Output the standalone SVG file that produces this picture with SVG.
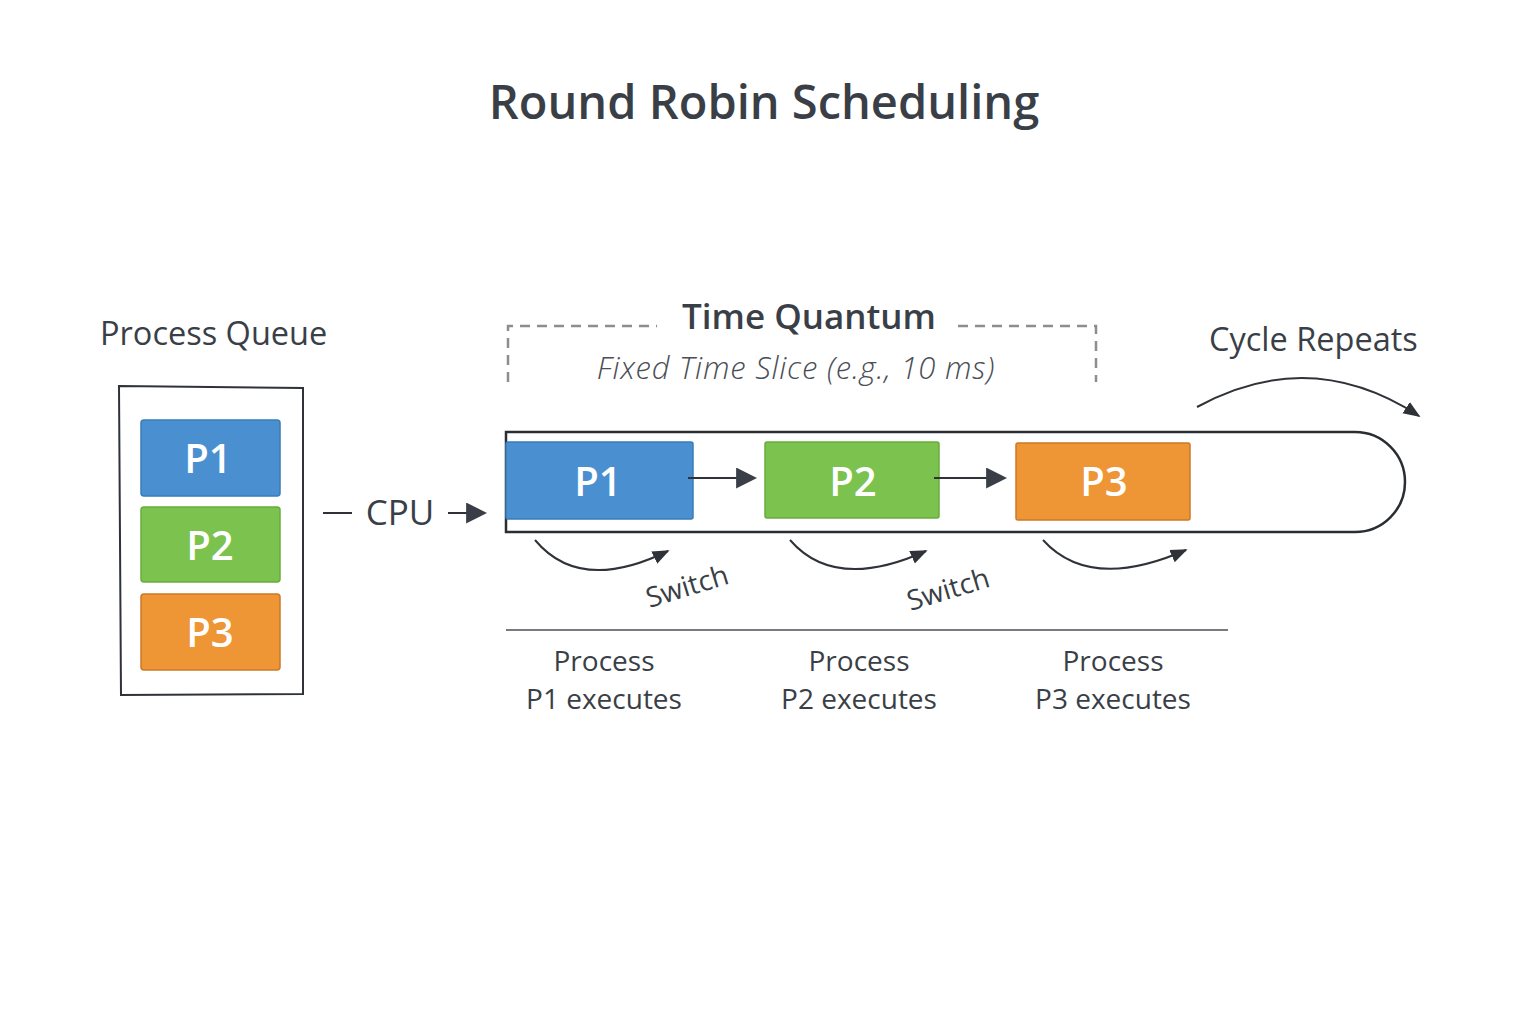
<svg xmlns="http://www.w3.org/2000/svg" width="1536" height="1024" viewBox="0 0 1536 1024">
<style>
text{font-family:"Open Sans",Lato,"Liberation Sans",sans-serif;fill:#3a3f47}
.title{font-size:47px;font-weight:600;text-anchor:middle}
.h{font-size:32.5px;font-weight:400}
.lbl{font-size:28px;text-anchor:middle}
.pt{font-size:40px;font-weight:600;fill:#fff;text-anchor:middle}
.line{fill:none;stroke:#2f3338;stroke-width:2}
.dash{fill:none;stroke:#8a8d91;stroke-width:2.5;stroke-dasharray:10 7}
.blue{fill:#4a90d0;stroke:#3a7cb8;stroke-width:1.5}
.green{fill:#7cc24e;stroke:#68ad3c;stroke-width:1.5}
.orange{fill:#ee9535;stroke:#c97a2a;stroke-width:1.5}
</style>
<defs>
<marker id="ahb" viewBox="0 0 10 10" refX="9" refY="5" markerWidth="21" markerHeight="21" markerUnits="userSpaceOnUse" orient="auto"><path d="M0,0 L10,5 L0,10 z" fill="#3a3f47"/></marker>
<marker id="ahs" viewBox="0 0 10 10" refX="9" refY="5" markerWidth="17" markerHeight="17" markerUnits="userSpaceOnUse" orient="auto"><path d="M0,1 L10,5 L0,9 z" fill="#2f3338"/></marker>
</defs>
<rect width="1536" height="1024" fill="#fff"/>
<text class="title" x="764" y="119">Round Robin Scheduling</text>

<g id="process-queue">
<text class="h" x="100" y="345">Process Queue</text>
<path d="M119,386 L303,388 L303,694 L121,695 Z" fill="#fff" stroke="#2f3338" stroke-width="2"/>
</g>
<g id="queue-p1"><rect class="blue" x="141" y="420" width="139" height="76" rx="3"/><text class="pt" x="208" y="473">P1</text></g>
<g id="queue-p2"><rect class="green" x="141" y="507" width="139" height="75" rx="3"/><text class="pt" x="210" y="560">P2</text></g>
<g id="queue-p3"><rect class="orange" x="141" y="594" width="139" height="76" rx="3"/><text class="pt" x="210" y="647">P3</text></g>

<g id="cpu">
<text x="400" y="525" style="font-size:35px;text-anchor:middle">CPU</text>
</g>

<g id="time-quantum">
<text x="809" y="329" style="font-size:35px;font-weight:600;text-anchor:middle">Time Quantum</text>
<text x="796" y="379" style="font-size:31px;letter-spacing:0.8px;font-style:italic;font-weight:300;text-anchor:middle;fill:#4a4e55">Fixed Time Slice (e.g., 10 ms)</text>
<path class="dash" d="M508,382 V326 H657"/>
<path class="dash" d="M958,326 H1096 V382"/>
</g>

<g id="timeline">
<path d="M506,432 H1355 A50,50 0 0 1 1355,532 H506 Z" fill="#fff" stroke="#2a2e33" stroke-width="2.5"/>
</g>
<g id="slot-p1"><rect class="blue" x="506" y="442" width="187" height="77" rx="2"/><text class="pt" x="598" y="496">P1</text></g>
<g id="slot-p2"><rect class="green" x="765" y="442" width="174" height="76" rx="2"/><text class="pt" x="853" y="496">P2</text></g>
<g id="slot-p3"><rect class="orange" x="1016" y="443" width="174" height="77" rx="2"/><text class="pt" x="1104" y="496">P3</text></g>

<g id="cycle-repeats">
<text class="h" x="1209" y="351">Cycle Repeats</text>
</g>

<g id="connectors">
<line class="line" x1="323" y1="513" x2="352" y2="513" stroke-width="3"/>
<line class="line" x1="448" y1="513" x2="485" y2="513" stroke-width="3" marker-end="url(#ahb)"/>
<line class="line" x1="688" y1="478" x2="755" y2="478" stroke-width="3" marker-end="url(#ahb)"/>
<line class="line" x1="934" y1="478" x2="1005" y2="478" stroke-width="3" marker-end="url(#ahb)"/>
<path class="line" d="M535,540 Q580,594 668,551" stroke-width="1.6" marker-end="url(#ahs)"/>
<path class="line" d="M790,540 Q835,592 926,551" stroke-width="1.6" marker-end="url(#ahs)"/>
<path class="line" d="M1043,540 Q1090,592 1186,550" stroke-width="1.6" marker-end="url(#ahs)"/>
<path class="line" d="M1197,407 Q1310,345 1419,416" stroke-width="1.6" marker-end="url(#ahs)"/>
</g>

<g id="switch-labels">
<text x="687" y="596" transform="rotate(-17 687 586)" style="font-size:28px;text-anchor:middle">Switch</text>
<text x="948" y="599" transform="rotate(-17 948 589)" style="font-size:28px;text-anchor:middle">Switch</text>
</g>

<g id="execution-labels">
<line x1="506" y1="630" x2="1228" y2="630" stroke="#4a4e55" stroke-width="1.6"/>
<text class="lbl" x="604" y="671">Process</text>
<text class="lbl" x="604" y="709">P1 executes</text>
<text class="lbl" x="859" y="671">Process</text>
<text class="lbl" x="859" y="709">P2 executes</text>
<text class="lbl" x="1113" y="671">Process</text>
<text class="lbl" x="1113" y="709">P3 executes</text>
</g>
</svg>
